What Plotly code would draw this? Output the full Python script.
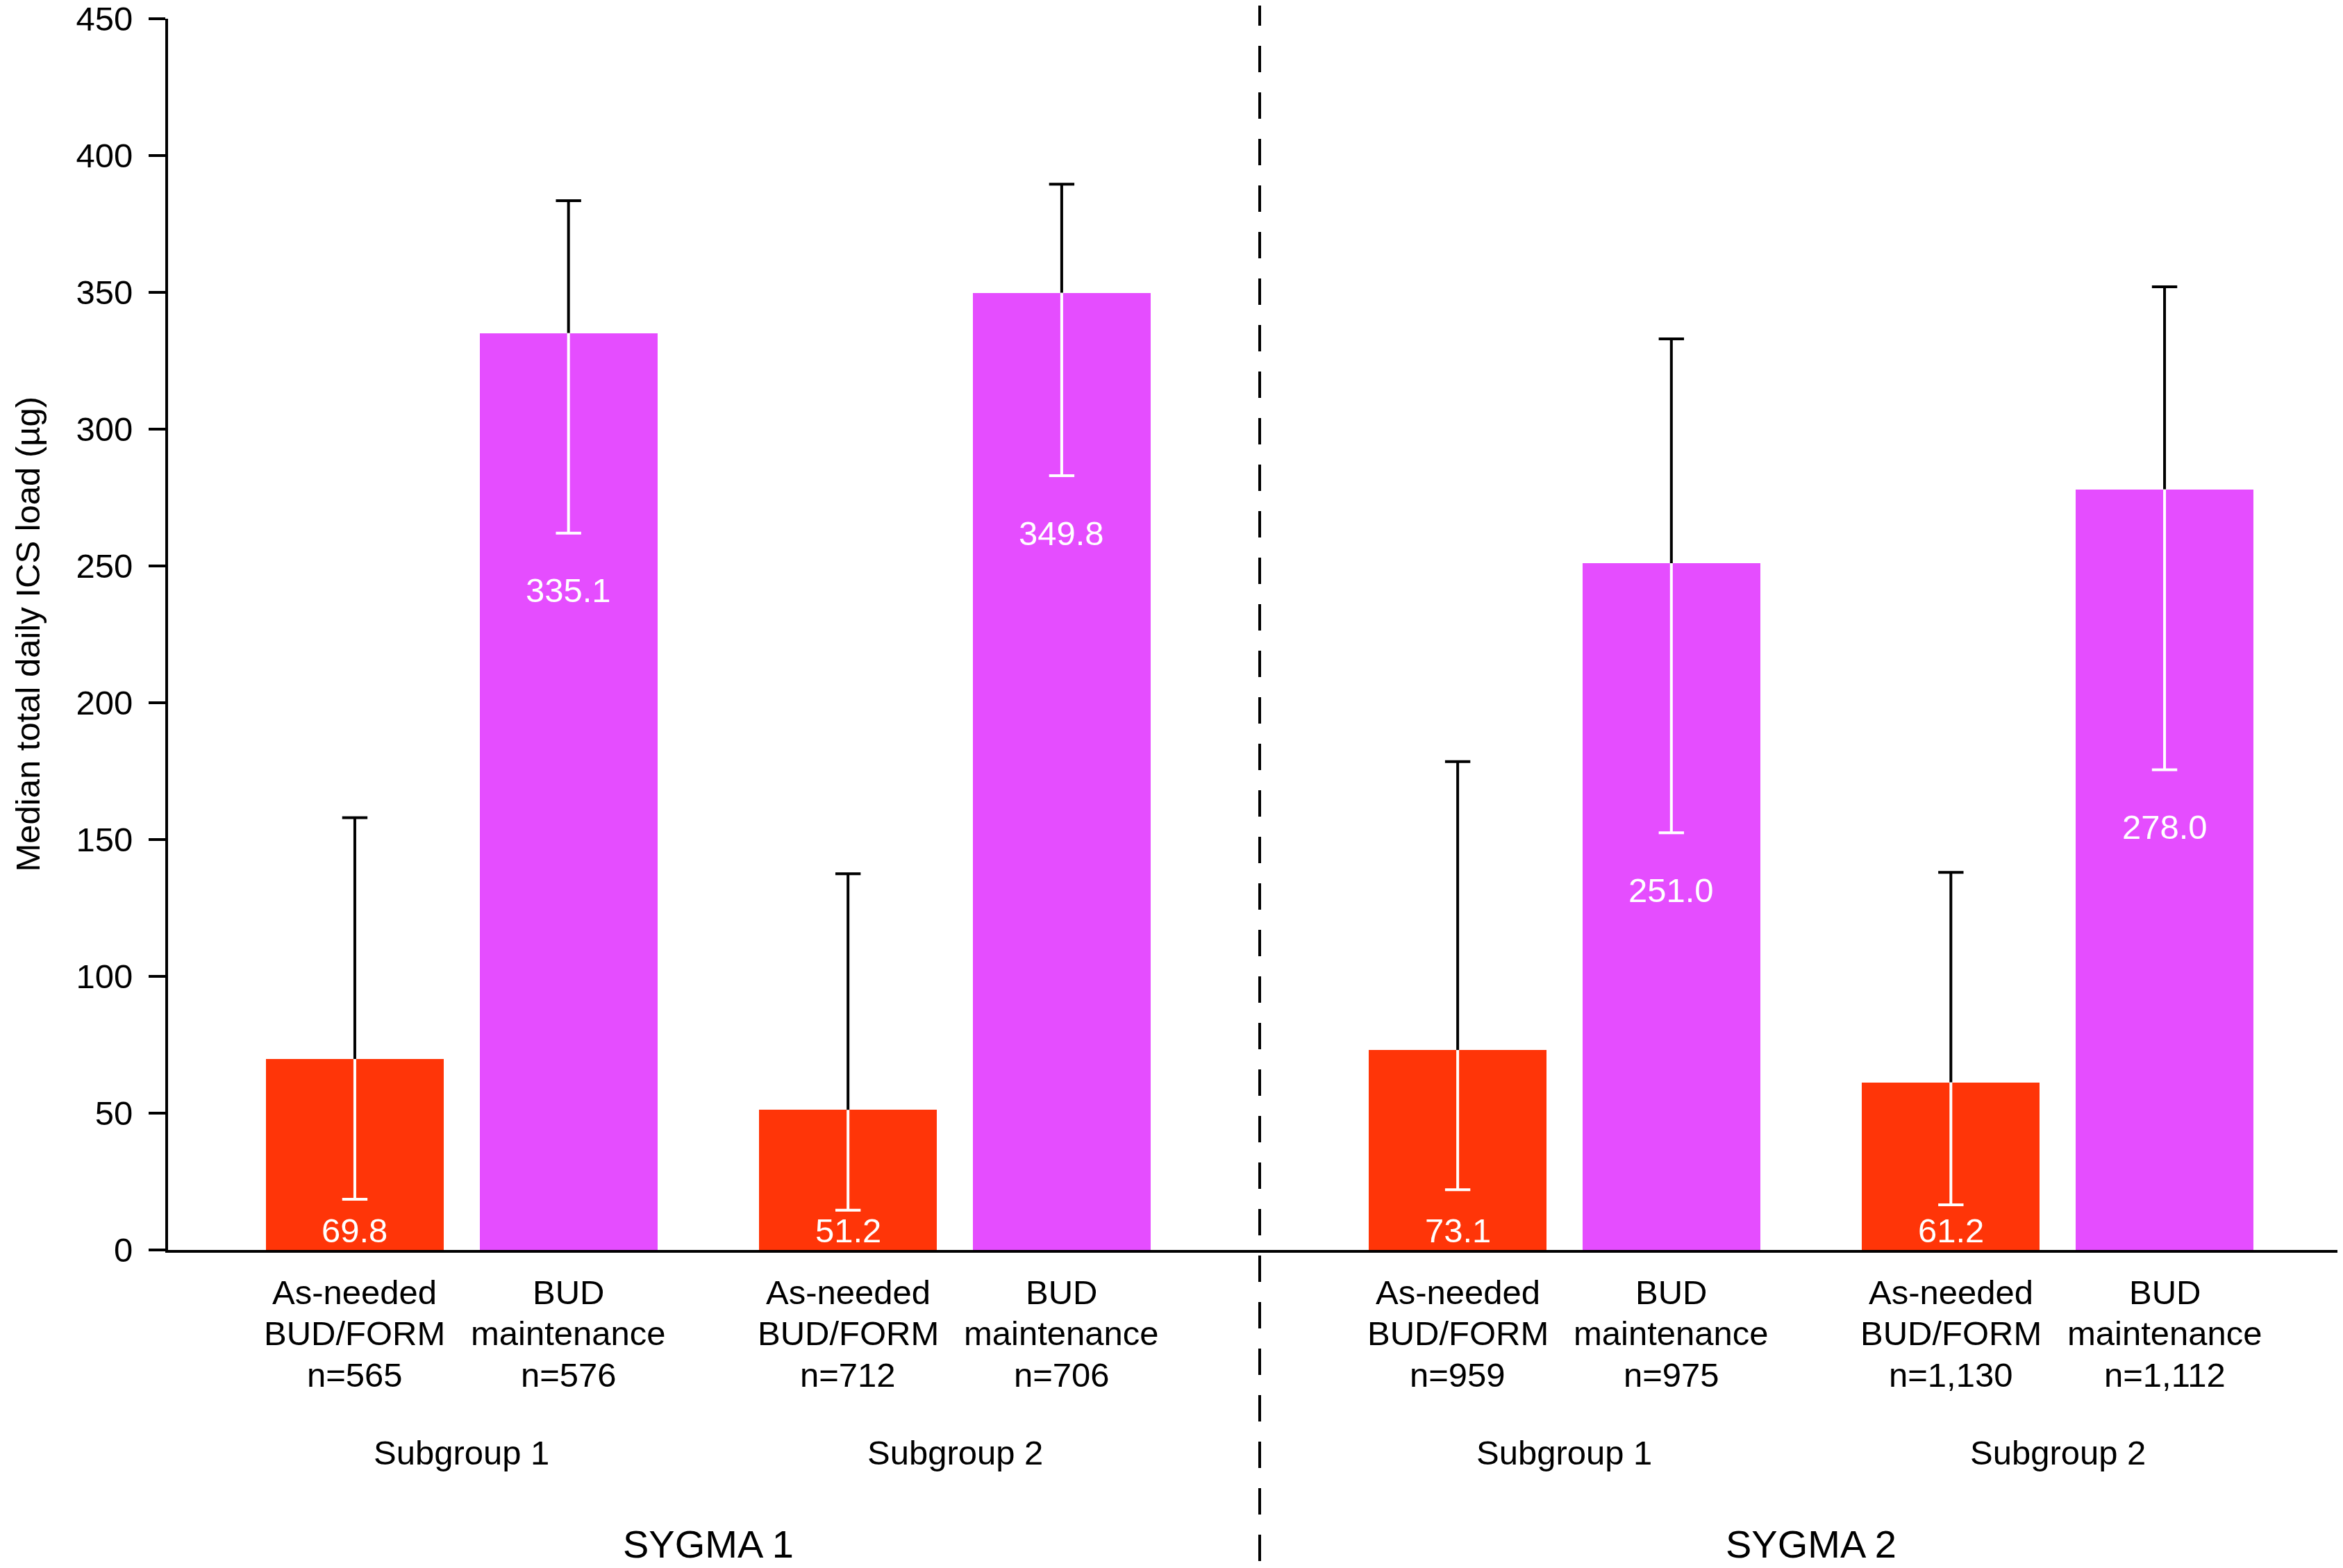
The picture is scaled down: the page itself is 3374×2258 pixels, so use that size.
import plotly.graph_objects as go

# ---------------- data ----------------
studies = ["SYGMA 1", "SYGMA 2"]
subgroups = ["Subgroup 1", "Subgroup 2"]
arm_lines = [["As-needed", "BUD/FORM"], ["BUD", "maintenance"]]
n_labels = ["n=565", "n=576", "n=712", "n=706", "n=959", "n=975", "n=1,130", "n=1,112"]
medians = [69.8, 335.1, 51.2, 349.8, 73.1, 251.0, 61.2, 278.0]
upper_q = [158.0, 383.5, 137.5, 389.5, 178.5, 333.0, 138.0, 352.0]
lower_q = [18.5, 262.0, 14.5, 283.0, 22.0, 152.5, 16.5, 175.5]
value_text = ["69.8", "335.1", "51.2", "349.8", "73.1", "251.0", "61.2", "278.0"]
arm_colors = ["#FF3508", "#E54DFF"]

# ---------------- layout helpers ----------------
ARM_STEP = 1.0
GROUP_STEP = 2.308
STUDY_STEP = 5.161
BAR_W = 0.832
FONT = "Liberation Sans, Arial, Helvetica, sans-serif"

xs, arm_idx = [], []
for s in range(len(studies)):
    for g in range(len(subgroups)):
        for a in range(len(arm_lines)):
            xs.append(s * STUDY_STEP + g * GROUP_STEP + a * ARM_STEP)
            arm_idx.append(a)

fig = go.Figure()

# bars, one trace per arm
for a in range(len(arm_lines)):
    idx = [i for i in range(len(xs)) if arm_idx[i] == a]
    fig.add_trace(go.Bar(
        x=[xs[i] for i in idx], y=[medians[i] for i in idx],
        width=BAR_W, marker=dict(color=arm_colors[a], line=dict(width=0)),
        showlegend=False, hoverinfo="skip"))

# error stems: black above the bar, white inside
fig.add_trace(go.Scatter(
    x=xs, y=medians, mode="markers", marker=dict(size=0.1, opacity=0),
    error_y=dict(type="data", symmetric=False,
                 array=[u - m for u, m in zip(upper_q, medians)],
                 arrayminus=[0] * len(xs), width=0, thickness=4, color="black"),
    showlegend=False, hoverinfo="skip"))
fig.add_trace(go.Scatter(
    x=xs, y=medians, mode="markers", marker=dict(size=0.1, opacity=0),
    error_y=dict(type="data", symmetric=False,
                 array=[0] * len(xs),
                 arrayminus=[m - l for m, l in zip(medians, lower_q)],
                 width=0, thickness=4, color="white"),
    showlegend=False, hoverinfo="skip"))
# caps
fig.add_trace(go.Scatter(
    x=xs, y=upper_q, mode="markers",
    marker=dict(symbol="line-ew", size=26, line=dict(width=4, color="black")),
    showlegend=False, hoverinfo="skip"))
fig.add_trace(go.Scatter(
    x=xs, y=lower_q, mode="markers",
    marker=dict(symbol="line-ew", size=26, line=dict(width=4, color="white")),
    showlegend=False, hoverinfo="skip"))

annotations = []
# value labels inside bars
for i, x in enumerate(xs):
    ly = max(lower_q[i] - 21, 7)
    annotations.append(dict(x=x, y=ly, xref="x", yref="y", text=value_text[i],
                            showarrow=False, font=dict(family=FONT, size=49, color="white"),
                            xanchor="center", yanchor="middle"))

# category labels (three lines)
line_y = [-0.0344, -0.0677, -0.1015]
for i, x in enumerate(xs):
    lines = arm_lines[arm_idx[i]] + [n_labels[i]]
    for k, t in enumerate(lines):
        annotations.append(dict(x=x, y=line_y[k], xref="x", yref="paper", text=t,
                                showarrow=False, font=dict(family=FONT, size=49, color="black"),
                                xanchor="center", yanchor="middle"))

# subgroup labels
for s in range(len(studies)):
    for g in range(len(subgroups)):
        c = s * STUDY_STEP + g * GROUP_STEP + ARM_STEP / 2
        annotations.append(dict(x=c, y=-0.1647, xref="x", yref="paper", text=subgroups[g],
                                showarrow=False, font=dict(family=FONT, size=49, color="black"),
                                xanchor="center", yanchor="middle"))
# study labels
for s in range(len(studies)):
    c = s * STUDY_STEP + (GROUP_STEP + ARM_STEP) / 2
    annotations.append(dict(x=c, y=-0.2386, xref="x", yref="paper", text=studies[s],
                            showarrow=False, font=dict(family=FONT, size=56, color="black"),
                            xanchor="center", yanchor="middle"))

# y-axis title
annotations.append(dict(x=-0.0648, y=0.5, xref="paper", yref="paper",
                        text="Median total daily ICS load (µg)", textangle=-90,
                        showarrow=False, font=dict(family=FONT, size=49, color="black"),
                        xanchor="center", yanchor="middle"))

# dashed divider between studies (drawn top to bottom)
div_x = (xs[3] + xs[4]) / 2
shapes = [dict(type="line", xref="x", yref="paper", x0=div_x, x1=div_x,
               y0=1.0158, y1=-0.26, line=dict(color="black", width=4, dash="38px,29px"))]

fig.update_layout(
    width=3374, height=2258,
    margin=dict(l=234, r=8, t=19, b=466, autoexpand=False),
    paper_bgcolor="white", plot_bgcolor="white",
    annotations=annotations, shapes=shapes,
    bargap=0, showlegend=False,
    font=dict(family=FONT, size=49, color="black"),
)
fig.update_xaxes(range=[-0.874, 9.304], showticklabels=False, ticks="",
                 showgrid=False, zeroline=False, showline=True, automargin=False,
                 linecolor="black", linewidth=4)
fig.update_yaxes(range=[0, 450], dtick=50, tick0=0, ticks="outside", ticklen=24,
                 tickwidth=4, tickcolor="black", showgrid=False, zeroline=False,
                 showline=True, linecolor="black", linewidth=4, ticklabelstandoff=13,
                 ticklabeloverflow="allow", automargin=False,
                 tickfont=dict(family=FONT, size=49, color="black"))

fig.write_html("out.html")
